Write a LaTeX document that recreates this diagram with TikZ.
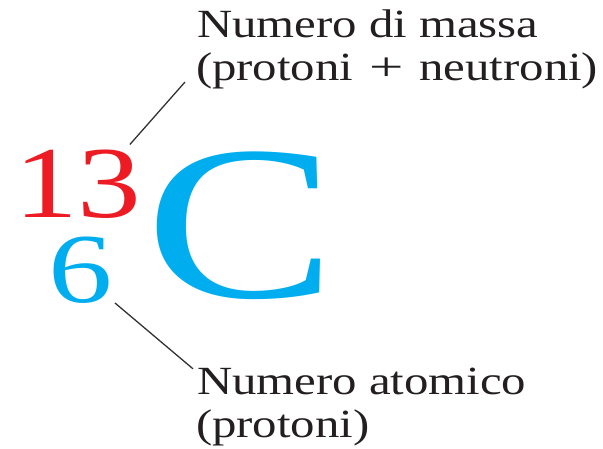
\documentclass[tikz,border=0pt]{standalone}
\usepackage{fontspec}
\setmainfont{Liberation Serif}
\definecolor{isored}{HTML}{ED1C24}
\definecolor{isocyan}{HTML}{00AEEF}
\definecolor{inkdark}{HTML}{231F20}
\begin{document}
\begin{tikzpicture}[x=1pt,y=-1pt,
  lbl/.style={anchor=base west,inner sep=0pt,outer sep=0pt,text=inkdark,font=\fontsize{40}{43}\selectfont},
  big/.style={anchor=base west,inner sep=0pt,outer sep=0pt},
  leader/.style={draw=black!80,line width=1.3pt}]
\useasboundingbox (0,0) rectangle (603,448);
% labels
\node[lbl] (massa1) at (197,37) {\scalebox{1.22}[1]{Numero di massa}};
\node[lbl] (massa2) at (196,80) {\scalebox{1.22}[1]{(protoni\hspace{3pt} \scalebox{1.25}[1]{+}\hspace{3pt} neutroni)}};
\node[lbl] (atom1) at (197,394) {\scalebox{1.22}[1]{Numero atomico}};
\node[lbl] (atom2) at (196,437) {\scalebox{1.22}[1]{(protoni)}};
% symbol
\node[big,text=isored,font=\fontsize{102}{102}\selectfont] (n13) at (14,217) {\scalebox{1.25}[1]{13}};
\node[big,text=isocyan,font=\fontsize{99}{99}\selectfont] (n6) at (48,302) {\scalebox{1.3}[1]{6}};
\node[big,text=isocyan,font=\fontsize{220}{220}\selectfont] (sym) at (145,297) {\scalebox{1.3}[1]{C}};
% leaders
\draw[leader] ([xshift=-11pt,yshift=-2pt]massa2.base west) -- ([xshift=-11.6pt,yshift=5pt]n13.north east);
\draw[leader] ([xshift=2.6pt]n6.south east) -- ([xshift=-4pt,yshift=-1.3pt]atom1.north west);
\end{tikzpicture}
\end{document}
